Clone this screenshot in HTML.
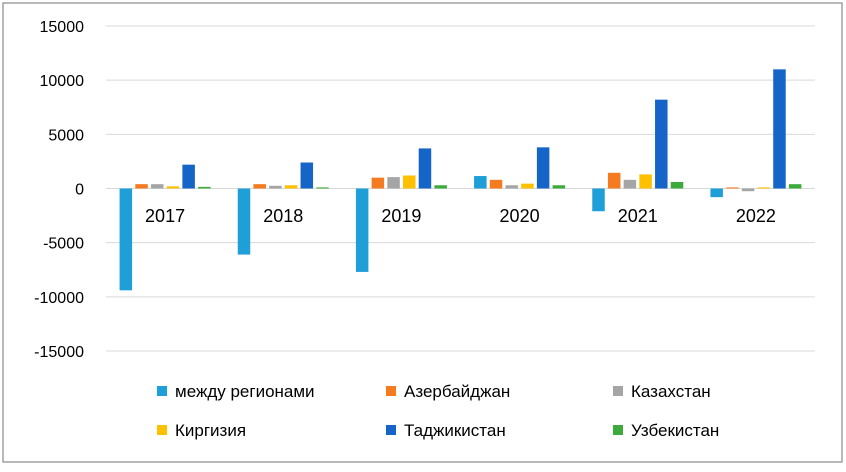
<!DOCTYPE html>
<html><head><meta charset="utf-8"><style>
body{margin:0;background:#fff;font-family:"Liberation Sans","DejaVu Sans",sans-serif}
svg text{font-family:"Liberation Sans","DejaVu Sans",sans-serif;fill:#000}
</style></head><body>
<svg id="c" width="846" height="467">
<rect x="3" y="3" width="839" height="459" fill="#fff" stroke="#8a8a8a" stroke-width="1.2"/>
<g id="grid"></g><g id="bars"></g><g id="labels"></g><g id="legend"></g>
</svg>
<script>
const categories=["2017","2018","2019","2020","2021","2022"];
const seriesNames=["между регионами","Азербайджан","Казахстан","Киргизия","Таджикистан","Узбекистан"];
const colors=["#1f9fd8","#f47b20","#a5a5a5","#ffc000","#1565c8","#3cab3c"];
const sMezhdu=[-9400,-6100,-7700,1150,-2100,-800];
const sAzer=[400,400,1000,800,1450,100];
const sKaz=[400,250,1050,300,800,-250];
const sKir=[200,300,1200,450,1300,100];
const sTadj=[2200,2400,3700,3800,8200,11000];
const sUzb=[150,100,300,300,600,400];
const series=[sMezhdu,sAzer,sKaz,sKir,sTadj,sUzb];
const ticks=[15000,10000,5000,0,-5000,-10000,-15000];
const NS="http://www.w3.org/2000/svg";
const x0=106,x1=815,yTop=26,yBot=351,vMax=15000,vMin=-15000;
const y=v=>yTop+(vMax-v)/(vMax-vMin)*(yBot-yTop);
const gw=(x1-x0)/categories.length;
const xc=i=>x0+gw*(i+0.5);
function mk(t,a,p){const e=document.createElementNS(NS,t);for(const k in a)e.setAttribute(k,a[k]);p.appendChild(e);return e;}
const G=document.getElementById('grid');
ticks.forEach(t=>{
 const l=mk('line',{x1:x0,x2:x1,y1:y(t),y2:y(t),stroke:'#d9d9d9','stroke-width':1},G);
 
 
 const tx=mk('text',{x:84,y:y(t)+6,'text-anchor':'end','font-size':16},G);
 tx.textContent=t;
 
 
});
const B=document.getElementById('bars');
const pitch=15.7,bw=12.5;
series.forEach((s,si)=>{
 s.forEach((v,i)=>{
  const bx=xc(i)-pitch*3+si*pitch+(pitch-bw)/2;
  const yy=Math.min(y(v),y(0)),h=Math.abs(y(v)-y(0));
  const r=mk('rect',{x:bx,y:yy,width:bw,height:Math.max(h,1),fill:colors[si]},B);
  
  
 });
});
const L=document.getElementById('labels');
categories.forEach((c,i)=>{
 const t=mk('text',{x:xc(i),y:222,'text-anchor':'middle','font-size':18},L);
 t.textContent=c;
 
 
});
const LG=document.getElementById('legend');
const lx=[157,386,613],ly=[391,430];
seriesNames.forEach((n,i)=>{
 const cx=lx[i%3],cy=ly[Math.floor(i/3)];
 const g=mk('g',{},LG);
 
 
 mk('rect',{x:cx,y:cy-5,width:10,height:10,fill:colors[i]},g);
 const t=mk('text',{x:cx+18,y:cy+6,'font-size':17},g);
 t.textContent=n;
});
</script>
</body></html>
